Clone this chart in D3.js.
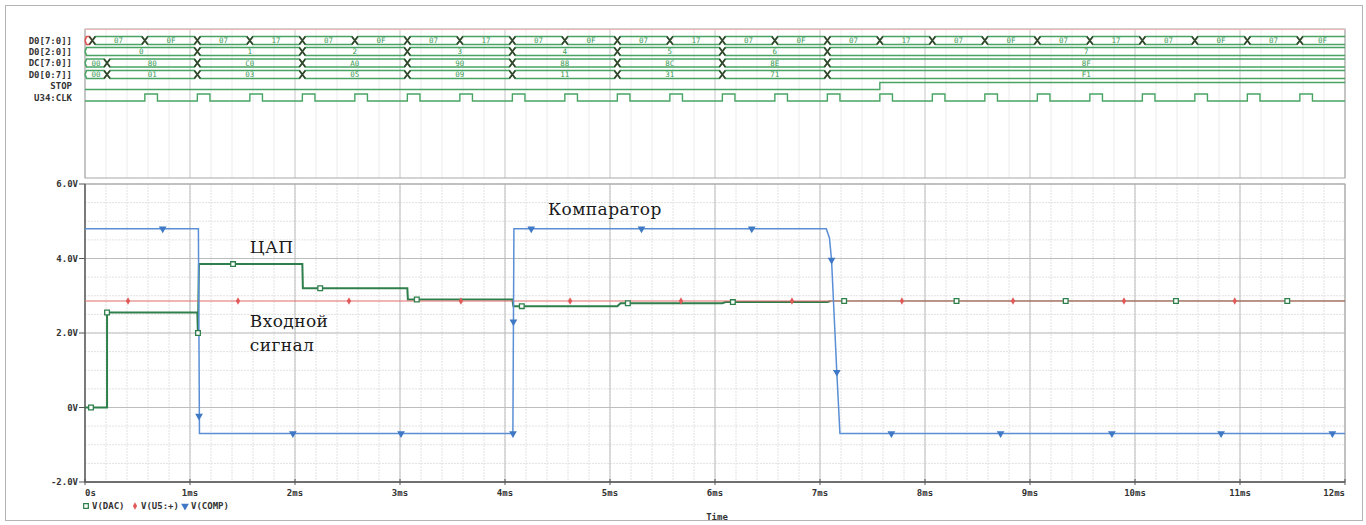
<!DOCTYPE html>
<html lang="ru">
<head>
<meta charset="UTF-8">
<title>АЦП последовательного приближения</title>
<script src="https://d3js.org/d3.v7.min.js"></script>
<style>
  body { margin: 0; background: #fff; overflow: hidden; }
  svg { display: block; }
  .mono { font-family: "DejaVu Sans Mono", monospace; font-weight: bold; fill: #333; }
  .note { font-family: "DejaVu Serif", serif; font-size: 17px; letter-spacing: 0.4px; fill: #1a1a1a; }
</style>
</head>
<body>
<div id="chart"></div>
<script>
// ---- digital rows (time in ms) ----
const rowNames = ["D0[7:0]]", "D0[2:0]]", "DC[7:0]]", "D0[0:7]]", "STOP", "U34:CLK"];

const bus1Edges = [0, 0.07, 0.57, 1.07, 1.57, 2.07, 2.57, 3.07, 3.57, 4.07, 4.57, 5.07, 5.57,
  6.07, 6.57, 7.07, 7.57, 8.07, 8.57, 9.07, 9.57, 10.07, 10.57, 11.07, 11.57, 12];
const bus1Vals = ["X", "07", "0F", "07", "17", "07", "0F", "07", "17", "07", "0F", "07", "17",
  "07", "0F", "07", "17", "07", "0F", "07", "17", "07", "0F", "07", "0F"];

const bus2Edges = [0, 1.07, 2.07, 3.07, 4.07, 5.07, 6.07, 7.07, 12];
const bus2Vals = ["0", "1", "2", "3", "4", "5", "6", "7"];

const bus3Edges = [0, 0.21, 1.07, 2.07, 3.07, 4.07, 5.07, 6.07, 7.07, 12];
const bus3Vals = ["00", "80", "C0", "A0", "90", "88", "8C", "8E", "8F"];
const bus4Vals = ["00", "01", "03", "05", "09", "11", "31", "71", "F1"];

const stopEdges = [0, 7.57, 12];
const stopLevels = [0, 1, 1];

const clkRise = [0.57, 1.07, 1.57, 2.07, 2.57, 3.07, 3.57, 4.07, 4.57, 5.07, 5.57, 6.07,
  6.57, 7.07, 7.57, 8.07, 8.57, 9.07, 9.57, 10.07, 10.57, 11.07, 11.57];
const clkFall = [0.69, 1.19, 1.69, 2.19, 2.69, 3.19, 3.69, 4.19, 4.69, 5.19, 5.69, 6.19,
  6.69, 7.19, 7.69, 8.19, 8.69, 9.19, 9.69, 10.19, 10.69, 11.19, 11.69];

// ---- analog traces ----
const dacT = [0, 0.21, 0.21, 1.07, 1.075, 1.085, 2.07, 2.075, 3.07, 3.075, 4.07, 4.08,
  5.07, 5.1, 6.07, 6.1, 7.07, 7.1, 12];
const dacV = [0, 0, 2.55, 2.55, 2.0, 3.85, 3.85, 3.2, 3.2, 2.9, 2.9, 2.72,
  2.72, 2.8, 2.8, 2.83, 2.83, 2.86, 2.86];

const inT = [0, 12];
const inV = [2.86, 2.86];

const compT = [0, 1.08, 1.09, 4.075, 4.085, 7.06, 7.09, 7.11, 7.16, 7.19, 12];
const compV = [4.8, 4.8, -0.7, -0.7, 4.8, 4.8, 4.55, 3.96, 0.95, -0.7, -0.7];

// marker points
const dacMarkT = [0.057, 0.21, 1.076, 1.41, 2.24, 3.16, 4.16, 5.17, 6.17, 7.23, 8.3, 9.34, 10.39, 11.45];
const dacMarkV = [0, 2.55, 2.0, 3.85, 3.2, 2.9, 2.72, 2.8, 2.83, 2.86, 2.86, 2.86, 2.86, 2.86];
const inMarkT = [0.41, 1.457, 2.514, 3.58, 4.62, 5.676, 6.733, 7.78, 8.838, 9.895, 10.95];
const compMarkT = [0.74, 1.086, 1.98, 3.01, 4.076, 4.08, 4.25, 5.3, 6.35, 7.11, 7.16, 7.68, 8.72, 9.78, 10.82, 11.88];
const compMarkV = [4.8, -0.23, -0.7, -0.7, -0.7, 2.3, 4.8, 4.8, 4.8, 3.96, 0.95, -0.7, -0.7, -0.7, -0.7, -0.7];

const legendNames = ["V(DAC)", "V(U5:+)", "V(COMP)"];

// ---- layout ----
const width = 1366, height = 525;
const plotL = 85, plotR = 1345;
const digTop = 29, digBottom = 178;
const anaTop = 184, anaBottom = 482;

const cGreen = "#2f7f4c", cRed = "#e06a6a", cBlue = "#5a8fd6";
const cDig = "#48a463", cX = "#35452c";

const x = d3.scaleLinear().domain([0, 12]).range([plotL, plotR]);
const y = d3.scaleLinear().domain([-2, 6]).range([anaBottom, anaTop]);

const svg = d3.select("#chart").append("svg")
  .attr("width", width).attr("height", height);

// outer frame
svg.append("rect").attr("x", 5.5).attr("y", 5.5)
  .attr("width", 1357).attr("height", 515)
  .attr("fill", "none").attr("stroke", "#b4b4b4");

// ---- digital panel ----
const dig = svg.append("g");
dig.selectAll("line.vmin").data(x.ticks(60)).join("line")
  .attr("x1", d => x(d)).attr("x2", d => x(d))
  .attr("y1", digTop).attr("y2", digBottom)
  .attr("stroke", "#ececec");
dig.selectAll("line.vmaj").data(x.ticks(12)).join("line")
  .attr("x1", d => x(d)).attr("x2", d => x(d))
  .attr("y1", digTop).attr("y2", digBottom)
  .attr("stroke", "#cfcfcf");
dig.append("rect").attr("x", plotL).attr("y", digTop)
  .attr("width", plotR - plotL).attr("height", digBottom - digTop)
  .attr("fill", "none").attr("stroke", "#a8a8a8");
dig.append("line").attr("x1", plotL).attr("x2", plotR)
  .attr("y1", digTop + 0.5).attr("y2", digTop + 0.5)
  .attr("stroke", "#f0b4b4");

const rowY = [40.5, 51.5, 63, 74.5, 86, 97.5];

dig.selectAll("text.rowname").data(rowNames).join("text")
  .attr("class", "mono")
  .attr("x", 72).attr("y", (d, i) => rowY[i] + 3)
  .attr("text-anchor", "end").attr("font-size", 9)
  .text(d => d);

function drawBus(yc, edges, vals) {
  const h = 4, s = 3;
  const g = dig.append("g");
  vals.forEach((v, i) => {
    const x0 = x(edges[i]), x1 = x(edges[i + 1]);
    const a = i > 0 ? s : 1.5, b = i < vals.length - 1 ? s : 0;
    const col = v === "X" ? "#e05050" : cDig;
    const top = `M${x0},${yc}L${x0 + a},${yc - h}L${x1 - b},${yc - h}` + (b ? `L${x1},${yc}` : "");
    const bot = `M${x0},${yc}L${x0 + a},${yc + h}L${x1 - b},${yc + h}` + (b ? `L${x1},${yc}` : "");
    g.append("path").attr("d", top + bot).attr("fill", "none")
      .attr("stroke", col).attr("stroke-width", 1.6);
    if (i > 0) {
      g.append("path")
        .attr("d", `M${x0 - s},${yc - h}L${x0 + s},${yc + h}M${x0 - s},${yc + h}L${x0 + s},${yc - h}`)
        .attr("stroke", cX).attr("stroke-width", 1.6).attr("fill", "none");
    }
    if (v !== "X" && x1 - x0 > 14) {
      g.append("text").attr("class", "mono")
        .attr("x", (x0 + x1) / 2).attr("y", yc + 2.8)
        .attr("text-anchor", "middle").attr("font-size", 7.5)
        .style("fill", "#3a9a55").style("font-weight", "normal")
        .text(v);
    }
  });
}
drawBus(rowY[0], bus1Edges, bus1Vals);
drawBus(rowY[1], bus2Edges, bus2Vals);
drawBus(rowY[2], bus3Edges, bus3Vals);
drawBus(rowY[3], bus3Edges, bus4Vals);

function drawLogic(yc, pts) {
  const line = d3.line().curve(d3.curveStepAfter)
    .x(d => x(d[0])).y(d => d[1] ? yc - 3.5 : yc + 3.5);
  dig.append("path").datum(pts).attr("d", line)
    .attr("fill", "none").attr("stroke", cDig).attr("stroke-width", 1.4);
}
drawLogic(rowY[4], stopEdges.map((t, i) => [t, stopLevels[i]]));
const clkPts = [[0, 0]];
clkRise.forEach((r, i) => { clkPts.push([r, 1]); clkPts.push([clkFall[i], 0]); });
clkPts.push([12, 0]);
drawLogic(rowY[5], clkPts);

// ---- analog panel ----
const ana = svg.append("g");
ana.selectAll("line.hmin").data(y.ticks(16)).join("line")
  .attr("x1", plotL).attr("x2", plotR)
  .attr("y1", d => y(d)).attr("y2", d => y(d))
  .attr("stroke", "#e2e2e2").attr("stroke-dasharray", "2,1");
ana.selectAll("line.vmin").data(x.ticks(60)).join("line")
  .attr("x1", d => x(d)).attr("x2", d => x(d))
  .attr("y1", anaTop).attr("y2", anaBottom)
  .attr("stroke", "#e2e2e2").attr("stroke-dasharray", "2,1");
ana.selectAll("line.hmaj").data(y.ticks(4)).join("line")
  .attr("x1", plotL).attr("x2", plotR)
  .attr("y1", d => y(d)).attr("y2", d => y(d))
  .attr("stroke", "#bdbdbd");
ana.selectAll("line.vmaj").data(x.ticks(12)).join("line")
  .attr("x1", d => x(d)).attr("x2", d => x(d))
  .attr("y1", anaTop).attr("y2", anaBottom)
  .attr("stroke", "#bdbdbd");
ana.append("rect").attr("x", plotL).attr("y", anaTop)
  .attr("width", plotR - plotL).attr("height", anaBottom - anaTop)
  .attr("fill", "none").attr("stroke", "#a8a8a8");
ana.append("line").attr("x1", plotL).attr("x2", plotL)
  .attr("y1", anaTop).attr("y2", anaBottom).attr("stroke", "#555").attr("stroke-width", 1.3);
ana.append("line").attr("x1", plotL).attr("x2", plotR)
  .attr("y1", anaBottom).attr("y2", anaBottom).attr("stroke", "#555").attr("stroke-width", 1.3);

// axes labels
ana.selectAll("text.ylab").data(y.ticks(4)).join("text")
  .attr("class", "mono").attr("font-size", 9)
  .attr("x", 78).attr("y", d => y(d) + 3).attr("text-anchor", "end")
  .text(d => d === 0 ? "0V" : d.toFixed(1) + "V");
ana.selectAll("line.ytick").data(y.ticks(4)).join("line")
  .attr("x1", 79).attr("x2", plotL).attr("y1", d => y(d)).attr("y2", d => y(d))
  .attr("stroke", "#555");
const xt = x.ticks(12);
ana.selectAll("line.xtick").data(xt).join("line")
  .attr("x1", d => x(d)).attr("x2", d => x(d))
  .attr("y1", anaBottom - 3).attr("y2", anaBottom + 3).attr("stroke", "#555");
ana.selectAll("text.xlab").data(xt).join("text")
  .attr("class", "mono").attr("font-size", 9)
  .attr("x", d => x(d)).attr("y", 496)
  .attr("text-anchor", (d, i) => i === 0 ? "start" : i === xt.length - 1 ? "end" : "middle")
  .text(d => d === 0 ? "0s" : d + "ms");
ana.append("text").attr("class", "mono").attr("font-size", 9)
  .attr("x", (plotL + plotR) / 2 + 2).attr("y", 520).attr("text-anchor", "middle")
  .text("Time");

// traces
const line = d3.line().x(d => x(d[0])).y(d => y(d[1]));
const dacPts = dacT.map((t, i) => [t, dacV[i]]);
const inPts = inT.map((t, i) => [t, inV[i]]);
const compPts = compT.map((t, i) => [t, compV[i]]);

ana.append("path").datum(dacPts.filter(d => d[0] <= 7.1)).attr("d", line)
  .attr("fill", "none").attr("stroke", cGreen).attr("stroke-width", 2);
ana.append("path").datum(dacPts.filter(d => d[0] >= 7.1)).attr("d", line)
  .attr("fill", "none").attr("stroke", cGreen).attr("stroke-width", 1);
ana.append("path").datum(inPts).attr("d", line)
  .attr("fill", "none").attr("stroke", cRed).attr("stroke-width", 1.1);
ana.append("path").datum(compPts).attr("d", line)
  .attr("fill", "none").attr("stroke", cBlue).attr("stroke-width", 1.5);

// markers
const sq = d3.symbol().type(d3.symbolSquare).size(22);
const dia = d3.symbol().type(d3.symbolDiamond).size(16);
const tri = d3.symbol().type(d3.symbolTriangle).size(26);
ana.selectAll("path.mdac").data(dacMarkT).join("path")
  .attr("d", sq).attr("transform", (d, i) => `translate(${x(d)},${y(dacMarkV[i])})`)
  .attr("fill", "#fff").attr("stroke", cGreen).attr("stroke-width", 1.3);
ana.selectAll("path.min").data(inMarkT).join("path")
  .attr("d", dia).attr("transform", d => `translate(${x(d)},${y(2.86)})`)
  .attr("fill", "#e05a5a");
ana.selectAll("path.mcomp").data(compMarkT).join("path")
  .attr("d", tri).attr("transform", (d, i) => `translate(${x(d)},${y(compMarkV[i])}) rotate(180)`)
  .attr("fill", "#3f78c4");

// legend
const legX = [83, 132, 182];
const legSym = [sq, dia, tri];
const legCol = [cGreen, "#e05a5a", "#3f78c4"];
legendNames.forEach((n, i) => {
  ana.append("path").attr("d", legSym[i])
    .attr("transform", `translate(${legX[i] + 3},506)` + (i === 2 ? " rotate(180)" : ""))
    .attr("fill", i === 0 ? "#fff" : legCol[i]).attr("stroke", i === 0 ? legCol[i] : "none")
    .attr("stroke-width", 1.2);
  ana.append("text").attr("class", "mono").attr("font-size", 9)
    .attr("x", legX[i] + 9).attr("y", 509).text(n);
});

// annotations
const notes = svg.append("g");
notes.append("text").attr("class", "note").attr("x", x(4.41)).attr("y", y(5.17)).text("Компаратор");
notes.append("text").attr("class", "note").attr("x", x(1.57)).attr("y", y(4.15)).text("ЦАП");
notes.append("text").attr("class", "note").attr("x", x(1.57)).attr("y", y(2.16)).text("Входной");
notes.append("text").attr("class", "note").attr("x", x(1.57)).attr("y", y(1.52)).text("сигнал");
</script>
</body>
</html>
